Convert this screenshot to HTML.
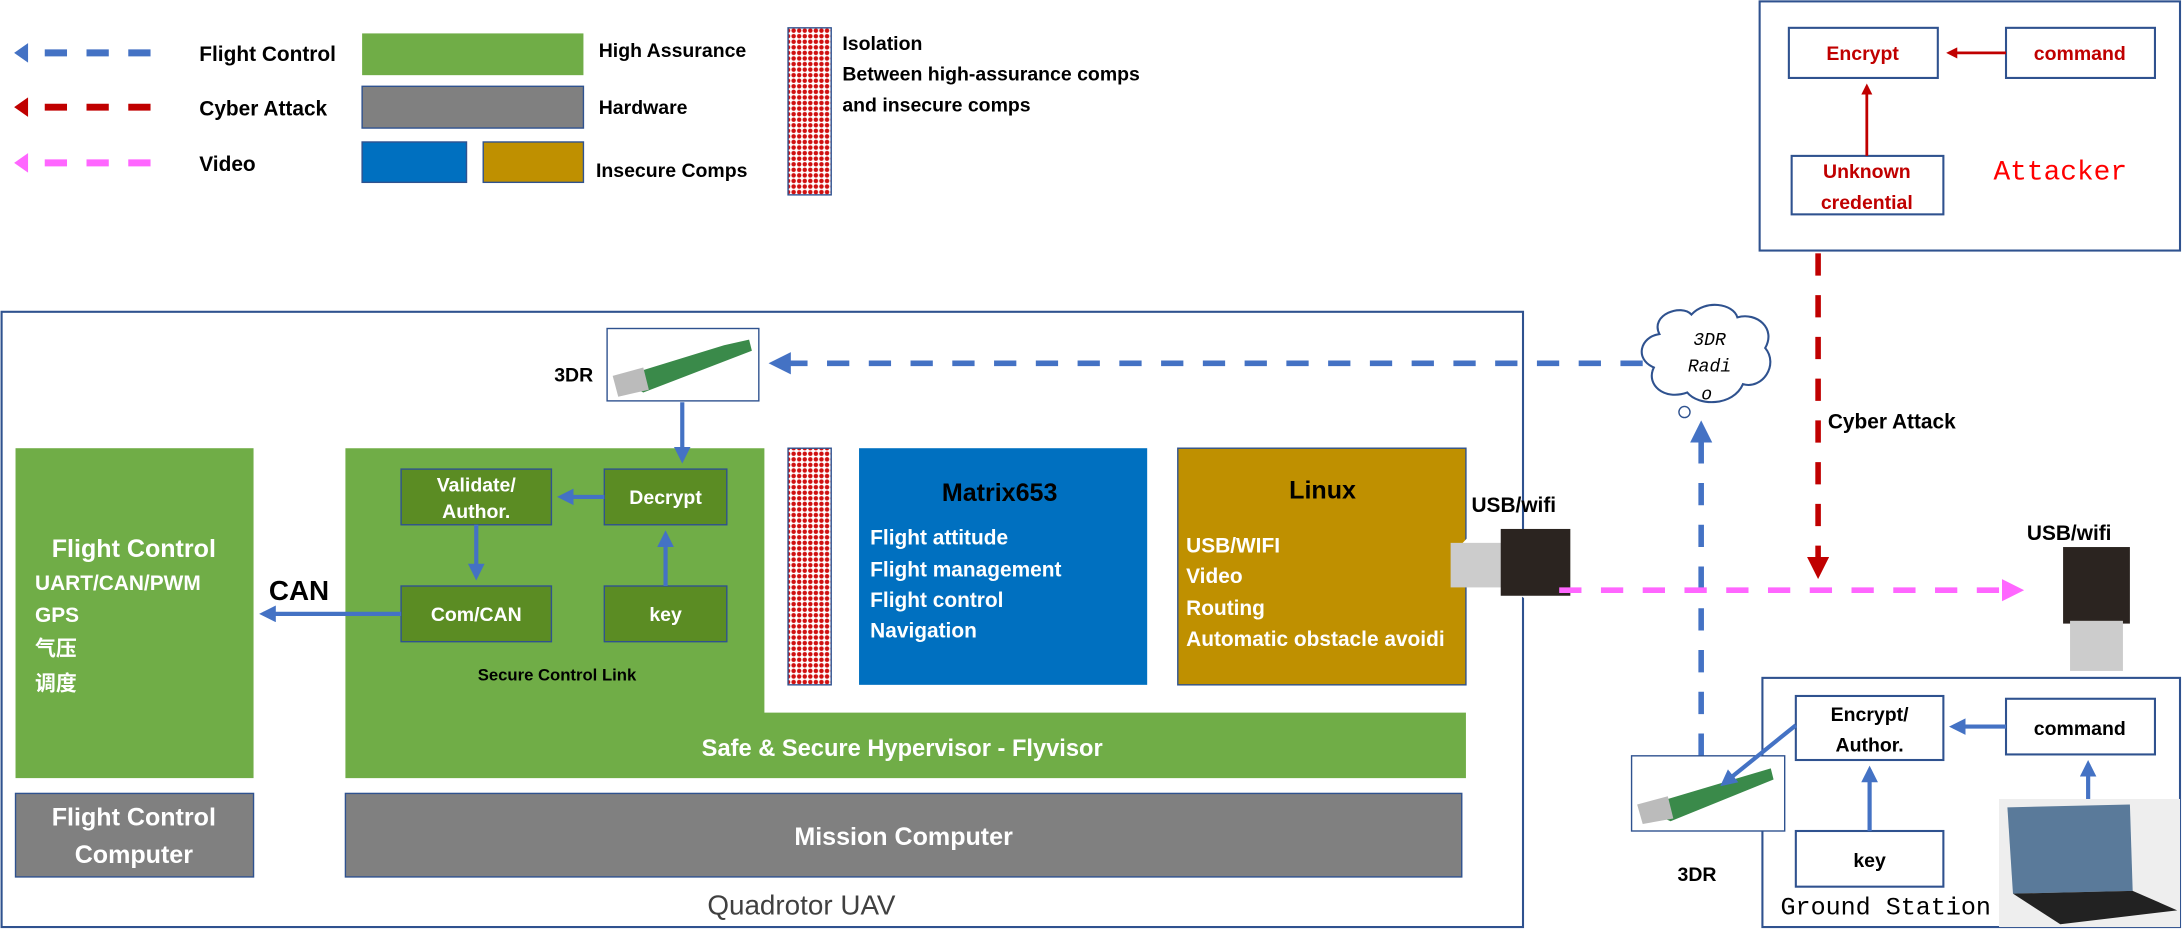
<!DOCTYPE html>
<html><head><meta charset="utf-8"><style>
html,body{margin:0;padding:0;background:#fff;overflow:hidden}
svg{display:block}
text{font-family:"Liberation Sans","Noto Sans CJK SC",sans-serif;font-weight:bold}
.w{fill:#fff}
.m{font-family:"Liberation Mono",monospace;font-weight:normal}
</style></head><body>
<svg width="2183" height="934" viewBox="0 0 1568 671" xmlns="http://www.w3.org/2000/svg">
<defs>
<pattern id="h" width="4" height="4" patternUnits="userSpaceOnUse"><rect width="4" height="4" fill="#fff"/><circle cx="2" cy="2" r="1.6" fill="#d01010"/></pattern>
<marker id="ab" markerWidth="4" markerHeight="4" refX="3" refY="2" orient="auto"><path d="M0,0L4,2L0,4z" fill="#4472c4"/></marker>
<marker id="ar" markerWidth="4" markerHeight="4" refX="3" refY="2" orient="auto"><path d="M0,0L4,2L0,4z" fill="#c00000"/></marker>
<marker id="ap" markerWidth="4" markerHeight="4" refX="3" refY="2" orient="auto"><path d="M0,0L4,2L0,4z" fill="#ff66ff"/></marker>
</defs>
<!-- legend -->
<path d="M10,38L20,31L20,45z" fill="#4472c4"/><line x1="32" y1="38" x2="112" y2="38" stroke="#4472c4" stroke-width="5" stroke-dasharray="16,14"/>
<path d="M10,77L20,70L20,84z" fill="#c00000"/><line x1="32" y1="77" x2="112" y2="77" stroke="#c00000" stroke-width="5" stroke-dasharray="16,14"/>
<path d="M10,117L20,110L20,124z" fill="#ff66ff"/><line x1="32" y1="117" x2="112" y2="117" stroke="#ff66ff" stroke-width="5" stroke-dasharray="16,14"/>
<text x="143" y="44" font-size="15">Flight Control</text>
<text x="143" y="83" font-size="15">Cyber Attack</text>
<text x="143" y="123" font-size="15">Video</text>
<rect x="260" y="24" width="159" height="30" fill="#70ad47"/>
<rect x="260" y="62" width="159" height="30" fill="#808080" stroke="#2f528f"/>
<rect x="260" y="102" width="75" height="29" fill="#0070c0" stroke="#2f528f"/>
<rect x="347" y="102" width="72" height="29" fill="#bf9000" stroke="#2f528f"/>
<text x="430" y="41" font-size="14">High Assurance</text>
<text x="430" y="82" font-size="14">Hardware</text>
<text x="428" y="127" font-size="14">Insecure Comps</text>
<rect x="566" y="20" width="31" height="120" fill="url(#h)" stroke="#2f528f"/>
<text x="605" y="36" font-size="14">Isolation</text>
<text x="605" y="58" font-size="14">Between high-assurance comps</text>
<text x="605" y="80" font-size="14">and insecure comps</text>
<!-- attacker -->
<rect x="1264" y="1" width="302" height="179" fill="#fff" stroke="#2f528f" stroke-width="1.5"/>
<rect x="1285" y="20" width="107" height="36" fill="#fff" stroke="#2f528f" stroke-width="1.5"/>
<rect x="1441" y="20" width="107" height="36" fill="#fff" stroke="#2f528f" stroke-width="1.5"/>
<rect x="1287" y="112" width="109" height="42" fill="#fff" stroke="#2f528f" stroke-width="1.5"/>
<text x="1338" y="43" font-size="14" fill="#c00000" text-anchor="middle">Encrypt</text>
<text x="1494" y="43" font-size="14" fill="#c00000" text-anchor="middle">command</text>
<text x="1341" y="128" font-size="14" fill="#c00000" text-anchor="middle">Unknown</text>
<text x="1341" y="150" font-size="14" fill="#c00000" text-anchor="middle">credential</text>
<line x1="1441" y1="38" x2="1400" y2="38" stroke="#c00000" stroke-width="2" marker-end="url(#ar)"/>
<line x1="1341" y1="112" x2="1341" y2="62" stroke="#c00000" stroke-width="2" marker-end="url(#ar)"/>
<text x="1432" y="129" font-size="20" fill="#ff0000" class="m">Attacker</text>
<line x1="1306" y1="182" x2="1306" y2="412" stroke="#c00000" stroke-width="4" stroke-dasharray="16,14" marker-end="url(#ar)"/>
<text x="1313" y="308" font-size="15">Cyber Attack</text>
<!-- UAV -->
<rect x="1" y="224" width="1093" height="442" fill="none" stroke="#2f528f" stroke-width="1.5"/>
<text x="508" y="657" font-size="20" class="" style="font-weight:normal" fill="#404040">Quadrotor UAV</text>
<rect x="11" y="322" width="171" height="237" fill="#70ad47"/>
<text x="96" y="400" font-size="18" class="w" text-anchor="middle">Flight Control</text>
<text x="25" y="424" font-size="15" class="w">UART/CAN/PWM</text>
<text x="25" y="447" font-size="15" class="w">GPS</text>
<text x="25" y="471" font-size="15" class="w">气压</text>
<text x="25" y="496" font-size="15" class="w">调度</text>
<rect x="11" y="570" width="171" height="60" fill="#808080" stroke="#2f528f"/>
<text x="96" y="593" font-size="18" class="w" text-anchor="middle">Flight Control</text>
<text x="96" y="620" font-size="18" class="w" text-anchor="middle">Computer</text>
<path d="M248,322H549V512H1053V559H248z" fill="#70ad47"/>
<text x="648" y="543" font-size="17" class="w" text-anchor="middle">Safe &amp; Secure Hypervisor - Flyvisor</text>
<g fill="#5b8c23" stroke="#2f528f">
<rect x="288" y="337" width="108" height="40"/><rect x="434" y="337" width="88" height="40"/>
<rect x="288" y="421" width="108" height="40"/><rect x="434" y="421" width="88" height="40"/></g>
<text x="342" y="353" font-size="14" class="w" text-anchor="middle">Validate/</text>
<text x="342" y="372" font-size="14" class="w" text-anchor="middle">Author.</text>
<text x="478" y="362" font-size="14" class="w" text-anchor="middle">Decrypt</text>
<text x="342" y="446" font-size="14" class="w" text-anchor="middle">Com/CAN</text>
<text x="478" y="446" font-size="14" class="w" text-anchor="middle">key</text>
<text x="400" y="489" font-size="12" text-anchor="middle">Secure Control Link</text>
<g stroke="#4472c4" stroke-width="3">
<line x1="434" y1="357" x2="403" y2="357" marker-end="url(#ab)"/>
<line x1="342" y1="377" x2="342" y2="414" marker-end="url(#ab)"/>
<line x1="478" y1="421" x2="478" y2="384" marker-end="url(#ab)"/>
<line x1="288" y1="441" x2="189" y2="441" marker-end="url(#ab)"/>
<line x1="490" y1="289" x2="490" y2="330" marker-end="url(#ab)"/>
</g>
<text x="193" y="431" font-size="20">CAN</text>
<rect x="566" y="322" width="31" height="170" fill="url(#h)" stroke="#2f528f"/>
<rect x="617" y="322" width="207" height="170" fill="#0070c0"/>
<text x="718" y="360" font-size="18" text-anchor="middle">Matrix653</text>
<g font-size="15" class="w"><text x="625" y="391" class="w">Flight attitude</text><text x="625" y="414" class="w">Flight management</text><text x="625" y="436" class="w">Flight control</text><text x="625" y="458" class="w">Navigation</text></g>
<rect x="846" y="322" width="207" height="170" fill="#bf9000" stroke="#2f528f"/>
<text x="950" y="358" font-size="18" text-anchor="middle">Linux</text>
<text x="852" y="397" font-size="15" class="w">USB/WIFI</text>
<text x="852" y="419" font-size="15" class="w">Video</text>
<text x="852" y="442" font-size="15" class="w">Routing</text>
<text x="852" y="464" font-size="15" class="w">Automatic obstacle avoidi</text>
<rect x="248" y="570" width="802" height="60" fill="#808080" stroke="#2f528f"/>
<text x="649" y="607" font-size="18" class="w" text-anchor="middle">Mission Computer</text>
<!-- 3DR on UAV -->
<rect x="436" y="236" width="109" height="52" fill="#fff" stroke="#2f528f"/>
<path d="M442,272L520,248L538,244L540,252L462,282z" fill="#3a8a4a"/><path d="M440,270L462,264L466,280L444,285z" fill="#bbb"/>
<text x="398" y="274" font-size="14">3DR</text>
<line x1="1180" y1="261" x2="556" y2="261" stroke="#4472c4" stroke-width="4" stroke-dasharray="16,14" marker-end="url(#ab)"/>
<!-- cloud -->
<path d="M1192,240C1185,226 1208,218 1215,226C1225,215 1245,218 1248,228C1262,224 1276,236 1268,250C1278,262 1266,280 1252,276C1245,292 1220,292 1212,282C1195,288 1182,276 1188,264C1174,258 1178,242 1192,240z" fill="#fff" stroke="#2f528f" stroke-width="1.5"/>
<circle cx="1210" cy="296" r="4" fill="#fff" stroke="#2f528f"/>
<text x="1228" y="248" font-size="13" class="m" text-anchor="middle" style="font-style:italic">3DR</text>
<text x="1228" y="267" font-size="13" class="m" text-anchor="middle" style="font-style:italic">Radi</text>
<text x="1226" y="287" font-size="13" class="m" text-anchor="middle" style="font-style:italic">o</text>
<line x1="1222" y1="543" x2="1222" y2="306" stroke="#4472c4" stroke-width="4" stroke-dasharray="16,14" marker-end="url(#ab)"/>
<!-- usb wifi left -->
<text x="1057" y="368" font-size="15">USB/wifi</text>
<path d="M1045,396L1062,378L1130,400L1110,440z" fill="#fff"/>
<rect x="1042" y="390" width="40" height="32" fill="#ccc"/><rect x="1078" y="380" width="50" height="48" fill="#2b2420"/>
<line x1="1120" y1="424" x2="1450" y2="424" stroke="#ff66ff" stroke-width="4" stroke-dasharray="16,14" marker-end="url(#ap)"/>
<text x="1456" y="388" font-size="15">USB/wifi</text>
<rect x="1482" y="393" width="48" height="55" fill="#2b2420"/><rect x="1487" y="446" width="38" height="36" fill="#ccc"/>
<!-- ground station -->
<rect x="1266" y="487" width="300" height="179" fill="none" stroke="#2f528f" stroke-width="1.5"/>
<rect x="1290" y="500" width="106" height="46" fill="#fff" stroke="#2f528f" stroke-width="1.5"/>
<rect x="1441" y="502" width="107" height="40" fill="#fff" stroke="#2f528f" stroke-width="1.5"/>
<rect x="1290" y="597" width="106" height="40" fill="#fff" stroke="#2f528f" stroke-width="1.5"/>
<text x="1343" y="518" font-size="14" text-anchor="middle">Encrypt/</text>
<text x="1343" y="540" font-size="14" text-anchor="middle">Author.</text>
<text x="1494" y="528" font-size="14" text-anchor="middle">command</text>
<text x="1343" y="623" font-size="14" text-anchor="middle">key</text>
<rect x="1172" y="543" width="110" height="54" fill="#fff" stroke="#2f528f"/>
<path d="M1178,580L1255,557L1272,552L1274,560L1200,590z" fill="#3a8a4a"/><path d="M1176,578L1198,572L1202,588L1180,592z" fill="#bbb"/>
<text x="1205" y="633" font-size="14">3DR</text>
<rect x="1436" y="574" width="130" height="92" fill="#eee"/>
<path d="M1442,580L1530,578L1532,640L1446,642z" fill="#5a7a9a"/><path d="M1446,642L1532,640L1564,654L1480,664z" fill="#222"/>
<text x="1279" y="657" font-size="18" class="m">Ground Station</text>
<g stroke="#4472c4" stroke-width="3">
<line x1="1441" y1="522" x2="1403" y2="522" marker-end="url(#ab)"/>
<line x1="1343" y1="597" x2="1343" y2="553" marker-end="url(#ab)"/>
<line x1="1500" y1="574" x2="1500" y2="549" marker-end="url(#ab)"/>
<line x1="1290" y1="521" x2="1238" y2="563" marker-end="url(#ab)"/>
</g>
</svg>
</body></html>
